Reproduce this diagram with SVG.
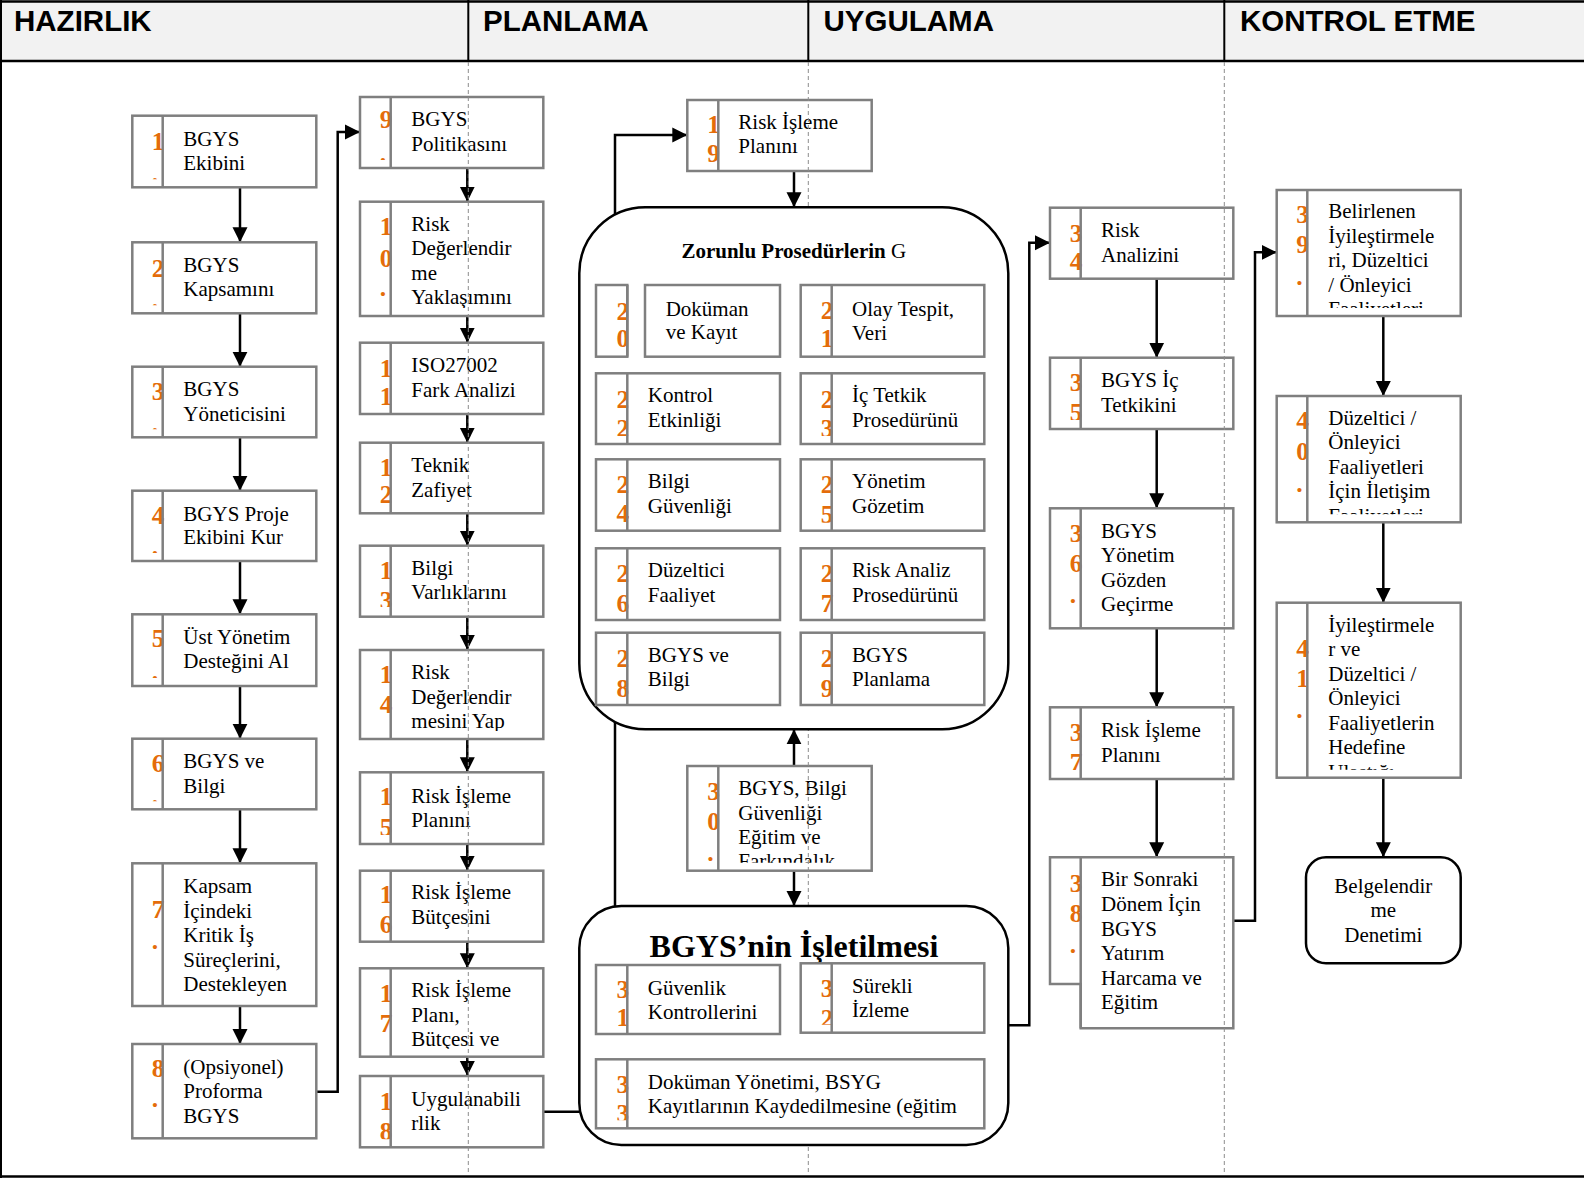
<svg xmlns="http://www.w3.org/2000/svg" width="1584" height="1178" viewBox="0 0 1584 1178">
<style>
.b{fill:#fff;stroke:#7f7f7f;stroke-width:2.5}
.d{stroke:#7f7f7f;stroke-width:2.5}
.t{font-family:"Liberation Serif","Times New Roman",serif;font-size:21px;fill:#000}
.n{font-family:"Liberation Serif","Times New Roman",serif;font-size:25.5px;font-weight:bold;fill:#e46c0a}
.c{fill:none;stroke:#000;stroke-width:2.5}
.lane{stroke:#8c8c8c;stroke-width:1;stroke-dasharray:4 3}
.h{font-family:"Liberation Sans",Arial,sans-serif;font-weight:bold;font-size:29.5px;fill:#000}
.k{fill:#fff;stroke:#000;stroke-width:2.5}
.tt{font-family:"Liberation Serif","Times New Roman",serif;font-weight:bold;fill:#000}
</style>
<defs>
<marker id="ah" markerUnits="userSpaceOnUse" markerWidth="16" markerHeight="16" viewBox="0 0 16 16" refX="15" refY="8" orient="auto"><path d="M0,0.5 L15,8 L0,15.5 Z" fill="#000"/></marker>
<clipPath id="k1"><rect x="132" y="115" width="185" height="64.3"/></clipPath>
<clipPath id="k2"><rect x="132" y="242" width="185" height="63.3"/></clipPath>
<clipPath id="k3"><rect x="132" y="366" width="185" height="63.3"/></clipPath>
<clipPath id="k4"><rect x="132" y="490" width="185" height="63"/></clipPath>
<clipPath id="k5"><rect x="132" y="614" width="185" height="64"/></clipPath>
<clipPath id="k6"><rect x="132" y="738" width="185" height="63.3"/></clipPath>
<clipPath id="k7"><rect x="132" y="863" width="185" height="135"/></clipPath>
<clipPath id="k8"><rect x="132" y="1044" width="185" height="86"/></clipPath>
<clipPath id="k9"><rect x="360" y="97" width="184" height="63"/></clipPath>
<clipPath id="k10"><rect x="360" y="201" width="184" height="107"/></clipPath>
<clipPath id="k11"><rect x="360" y="342" width="184" height="64"/></clipPath>
<clipPath id="k12"><rect x="360" y="442" width="184" height="63.3"/></clipPath>
<clipPath id="k13"><rect x="360" y="545" width="184" height="62"/></clipPath>
<clipPath id="k14"><rect x="360" y="650" width="184" height="81"/></clipPath>
<clipPath id="k15"><rect x="360" y="772" width="184" height="63"/></clipPath>
<clipPath id="k16"><rect x="360" y="870" width="184" height="63.7"/></clipPath>
<clipPath id="k17"><rect x="360" y="968" width="184" height="80.7"/></clipPath>
<clipPath id="k18"><rect x="360" y="1076" width="184" height="63.3"/></clipPath>
<clipPath id="k19"><rect x="687" y="100" width="185" height="63"/></clipPath>
<clipPath id="k30"><rect x="687" y="766" width="185" height="96.7"/></clipPath>
<clipPath id="kr1"><rect x="596" y="285" width="389" height="63.7"/></clipPath>
<clipPath id="kr2"><rect x="596" y="373" width="389" height="63"/></clipPath>
<clipPath id="kr3"><rect x="596" y="459" width="389" height="63.7"/></clipPath>
<clipPath id="kr4"><rect x="596" y="548" width="389" height="64"/></clipPath>
<clipPath id="kr5"><rect x="596" y="632" width="389" height="65"/></clipPath>
<clipPath id="k31"><rect x="596" y="965" width="184" height="61"/></clipPath>
<clipPath id="k32"><rect x="800" y="963" width="185" height="61.7"/></clipPath>
<clipPath id="k33"><rect x="596" y="1059" width="389" height="61.3"/></clipPath>
<clipPath id="k34"><rect x="1050" y="207" width="184" height="63.7"/></clipPath>
<clipPath id="k35"><rect x="1050" y="357" width="184" height="63"/></clipPath>
<clipPath id="k36"><rect x="1050" y="508" width="184" height="112.3"/></clipPath>
<clipPath id="k37"><rect x="1050" y="707" width="184" height="63"/></clipPath>
<clipPath id="k38"><rect x="1050" y="857" width="184" height="163.3"/></clipPath>
<clipPath id="k39"><rect x="1276" y="190" width="185" height="118"/></clipPath>
<clipPath id="k40"><rect x="1276" y="396" width="185" height="118.3"/></clipPath>
<clipPath id="k41"><rect x="1276" y="602" width="185" height="167.7"/></clipPath>
</defs>

<g id="header">
<rect x="0" y="0" width="1584" height="61" fill="#f2f2f2"/>
<line x1="0" y1="1.5" x2="1584" y2="1.5" stroke="#000" stroke-width="2.5"/>
<line x1="0" y1="61" x2="1584" y2="61" stroke="#000" stroke-width="2.5"/>
<line x1="1" y1="0" x2="1" y2="1178" stroke="#000" stroke-width="2"/>
<line x1="0" y1="1176.5" x2="1584" y2="1176.5" stroke="#000" stroke-width="2.5"/>
<line x1="468.3" y1="0" x2="468.3" y2="61" stroke="#000" stroke-width="2"/>
<line x1="808.3" y1="0" x2="808.3" y2="61" stroke="#000" stroke-width="2"/>
<line x1="1224.3" y1="0" x2="1224.3" y2="61" stroke="#000" stroke-width="2"/>
<text class="h" x="14" y="30.5">HAZIRLIK</text>
<text class="h" x="483" y="30.5">PLANLAMA</text>
<text class="h" x="823.5" y="30.5">UYGULAMA</text>
<text class="h" x="1240" y="30.5">KONTROL ETME</text>
</g>

<g id="connectors" class="c">
<path d="M240,187.3 V242.3" marker-end="url(#ah)"/>
<path d="M240,313.3 V366.7" marker-end="url(#ah)"/>
<path d="M240,437.3 V490.7" marker-end="url(#ah)"/>
<path d="M240,561 V614.3" marker-end="url(#ah)"/>
<path d="M240,686 V738.7" marker-end="url(#ah)"/>
<path d="M240,809.3 V863.3" marker-end="url(#ah)"/>
<path d="M240,1006 V1044" marker-end="url(#ah)"/>
<path d="M316.3,1091.7 H337.7 V132 H360" marker-end="url(#ah)"/>
<path d="M467.3,168 V201.7" marker-end="url(#ah)"/>
<path d="M467.3,316 V342.7" marker-end="url(#ah)"/>
<path d="M467.3,414 V442.7" marker-end="url(#ah)"/>
<path d="M467.3,513.3 V545.7" marker-end="url(#ah)"/>
<path d="M467.3,616.7 V650" marker-end="url(#ah)"/>
<path d="M467.3,739 V772.3" marker-end="url(#ah)"/>
<path d="M467.3,844 V870.7" marker-end="url(#ah)"/>
<path d="M467.3,941.7 V968.3" marker-end="url(#ah)"/>
<path d="M467.3,1056.7 V1076" marker-end="url(#ah)"/>
<path d="M543.3,1111.7 H579.3"/>
<path d="M615,906 V135 H687.3" marker-end="url(#ah)"/>
<path d="M794,171 V207.3" marker-end="url(#ah)"/>
<path d="M794,766 V729.3" marker-end="url(#ah)"/>
<path d="M794,870.7 V906" marker-end="url(#ah)"/>
<path d="M1008.3,1025.3 H1029.3 V242.7 H1050" marker-end="url(#ah)"/>
<path d="M1156.7,278.7 V357.7" marker-end="url(#ah)"/>
<path d="M1156.7,429 V508.3" marker-end="url(#ah)"/>
<path d="M1156.7,628.3 V707.3" marker-end="url(#ah)"/>
<path d="M1156.7,779 V857.3" marker-end="url(#ah)"/>
<path d="M1233.3,920.7 H1255 V252.3 H1276.7" marker-end="url(#ah)"/>
<path d="M1383.3,316 V396" marker-end="url(#ah)"/>
<path d="M1383.3,522.3 V602.7" marker-end="url(#ah)"/>
<path d="M1383.3,777.7 V857.3" marker-end="url(#ah)"/>
</g>

<g id="n1"><rect class="b" x="132.3" y="115.7" width="184" height="71.6"/><g clip-path="url(#k1)"><text class="n"><tspan x="151.7" y="150">1</tspan><tspan x="151.7" y="181.5">.</tspan></text><text class="t"><tspan x="183.3" y="146">BGYS</tspan><tspan x="183.3" y="170">Ekibini</tspan></text></g><line class="d" x1="162.7" y1="115.7" x2="162.7" y2="187.3"/></g>
<g id="n2"><rect class="b" x="132.3" y="242.3" width="184" height="71"/><g clip-path="url(#k2)"><text class="n"><tspan x="151.7" y="276.7">2</tspan><tspan x="151.7" y="307.5">.</tspan></text><text class="t"><tspan x="183.3" y="271.7">BGYS</tspan><tspan x="183.3" y="296">Kapsamını</tspan></text></g><line class="d" x1="162.7" y1="242.3" x2="162.7" y2="313.3"/></g>
<g id="n3"><rect class="b" x="132.3" y="366.7" width="184" height="70.6"/><g clip-path="url(#k3)"><text class="n"><tspan x="151.7" y="400">3</tspan><tspan x="151.7" y="431.5">.</tspan></text><text class="t"><tspan x="183.3" y="396">BGYS</tspan><tspan x="183.3" y="420.7">Yöneticisini</tspan></text></g><line class="d" x1="162.7" y1="366.7" x2="162.7" y2="437.3"/></g>
<g id="n4"><rect class="b" x="132.3" y="490.7" width="184" height="70.3"/><g clip-path="url(#k4)"><text class="n"><tspan x="151.7" y="524">4</tspan><tspan x="151.7" y="555.2">.</tspan></text><text class="t"><tspan x="183.3" y="521">BGYS Proje</tspan><tspan x="183.3" y="544.3">Ekibini Kur</tspan></text></g><line class="d" x1="162.7" y1="490.7" x2="162.7" y2="561"/></g>
<g id="n5"><rect class="b" x="132.3" y="614.3" width="184" height="71.7"/><g clip-path="url(#k5)"><text class="n"><tspan x="151.7" y="647.3">5</tspan><tspan x="151.7" y="680.2">.</tspan></text><text class="t"><tspan x="183.3" y="644">Üst Yönetim</tspan><tspan x="183.3" y="668.3">Desteğini Al</tspan></text></g><line class="d" x1="162.7" y1="614.3" x2="162.7" y2="686"/></g>
<g id="n6"><rect class="b" x="132.3" y="738.7" width="184" height="70.6"/><g clip-path="url(#k6)"><text class="n"><tspan x="151.7" y="771.7">6</tspan><tspan x="151.7" y="803.5">.</tspan></text><text class="t"><tspan x="183.3" y="768.3">BGYS ve</tspan><tspan x="183.3" y="792.7">Bilgi</tspan></text></g><line class="d" x1="162.7" y1="738.7" x2="162.7" y2="809.3"/></g>
<g id="n7"><rect class="b" x="132.3" y="863.3" width="184" height="142.7"/><g clip-path="url(#k7)"><text class="n"><tspan x="151.7" y="918.3">7</tspan><tspan x="151.7" y="949.3">.</tspan></text><text class="t"><tspan x="183.3" y="893.3">Kapsam</tspan><tspan x="183.3" y="917.7">İçindeki</tspan><tspan x="183.3" y="942">Kritik İş</tspan><tspan x="183.3" y="966.7">Süreçlerini,</tspan><tspan x="183.3" y="990.7">Destekleyen</tspan></text></g><line class="d" x1="162.7" y1="863.3" x2="162.7" y2="1006"/></g>
<g id="n8"><rect class="b" x="132.3" y="1044" width="184" height="94.3"/><g clip-path="url(#k8)"><text class="n"><tspan x="151.7" y="1076.7">8</tspan><tspan x="151.7" y="1107.3">.</tspan></text><text class="t"><tspan x="183.3" y="1074">(Opsiyonel)</tspan><tspan x="183.3" y="1098.3">Proforma</tspan><tspan x="183.3" y="1122.7">BGYS</tspan></text></g><line class="d" x1="162.7" y1="1044" x2="162.7" y2="1138.3"/></g>

<g id="n9"><rect class="b" x="360" y="97" width="183.3" height="71"/><g clip-path="url(#k9)"><text class="n"><tspan x="379.7" y="128.3">9</tspan><tspan x="379.7" y="162">.</tspan></text><text class="t"><tspan x="411.3" y="126">BGYS</tspan><tspan x="411.3" y="150.7">Politikasını</tspan></text></g><line class="d" x1="390.7" y1="97" x2="390.7" y2="168"/></g>
<g id="n10"><rect class="b" x="360" y="201.7" width="183.3" height="114.3"/><g clip-path="url(#k10)"><text class="n"><tspan x="379.7" y="235">1</tspan><tspan x="379.7" y="266.7">0</tspan><tspan x="379.7" y="296">.</tspan></text><text class="t"><tspan x="411.3" y="230.7">Risk</tspan><tspan x="411.3" y="255.3">Değerlendir</tspan><tspan x="411.3" y="280">me</tspan><tspan x="411.3" y="304">Yaklaşımını</tspan></text></g><line class="d" x1="390.7" y1="201.7" x2="390.7" y2="316"/></g>
<g id="n11"><rect class="b" x="360" y="342.7" width="183.3" height="71.3"/><g clip-path="url(#k11)"><text class="n"><tspan x="379.7" y="376.7">1</tspan><tspan x="379.7" y="405">1</tspan></text><text class="t"><tspan x="411.3" y="371.7">ISO27002</tspan><tspan x="411.3" y="396.7">Fark Analizi</tspan></text></g><line class="d" x1="390.7" y1="342.7" x2="390.7" y2="414"/></g>
<g id="n12"><rect class="b" x="360" y="442.7" width="183.3" height="70.6"/><g clip-path="url(#k12)"><text class="n"><tspan x="379.7" y="476">1</tspan><tspan x="379.7" y="503.3">2</tspan></text><text class="t"><tspan x="411.3" y="471.7">Teknik</tspan><tspan x="411.3" y="496.7">Zafiyet</tspan></text></g><line class="d" x1="390.7" y1="442.7" x2="390.7" y2="513.3"/></g>
<g id="n13"><rect class="b" x="360" y="545.7" width="183.3" height="71"/><g clip-path="url(#k13)"><text class="n"><tspan x="379.7" y="579.3">1</tspan><tspan x="379.7" y="609">3</tspan></text><text class="t"><tspan x="411.3" y="575">Bilgi</tspan><tspan x="411.3" y="599.3">Varlıklarını</tspan></text></g><line class="d" x1="390.7" y1="545.7" x2="390.7" y2="616.7"/></g>
<g id="n14"><rect class="b" x="360" y="650" width="183.3" height="89"/><g clip-path="url(#k14)"><text class="n"><tspan x="379.7" y="683.3">1</tspan><tspan x="379.7" y="713.3">4</tspan></text><text class="t"><tspan x="411.3" y="679.3">Risk</tspan><tspan x="411.3" y="704">Değerlendir</tspan><tspan x="411.3" y="728.3">mesini Yap</tspan></text></g><line class="d" x1="390.7" y1="650" x2="390.7" y2="739"/></g>
<g id="n15"><rect class="b" x="360" y="772.3" width="183.3" height="71.7"/><g clip-path="url(#k15)"><text class="n"><tspan x="379.7" y="805">1</tspan><tspan x="379.7" y="836">5</tspan></text><text class="t"><tspan x="411.3" y="802.7">Risk İşleme</tspan><tspan x="411.3" y="827">Planını</tspan></text></g><line class="d" x1="390.7" y1="772.3" x2="390.7" y2="844"/></g>
<g id="n16"><rect class="b" x="360" y="870.7" width="183.3" height="71"/><g clip-path="url(#k16)"><text class="n"><tspan x="379.7" y="903.3">1</tspan><tspan x="379.7" y="933">6</tspan></text><text class="t"><tspan x="411.3" y="899.3">Risk İşleme</tspan><tspan x="411.3" y="924">Bütçesini</tspan></text></g><line class="d" x1="390.7" y1="870.7" x2="390.7" y2="941.7"/></g>
<g id="n17"><rect class="b" x="360" y="968.3" width="183.3" height="88.4"/><g clip-path="url(#k17)"><text class="n"><tspan x="379.7" y="1001.7">1</tspan><tspan x="379.7" y="1031.7">7</tspan></text><text class="t"><tspan x="411.3" y="996.7">Risk İşleme</tspan><tspan x="411.3" y="1021.7">Planı,</tspan><tspan x="411.3" y="1046">Bütçesi ve</tspan></text></g><line class="d" x1="390.7" y1="968.3" x2="390.7" y2="1056.7"/></g>
<g id="n18"><rect class="b" x="360" y="1076" width="183.3" height="71.3"/><g clip-path="url(#k18)"><text class="n"><tspan x="379.7" y="1110">1</tspan><tspan x="379.7" y="1140">8</tspan></text><text class="t"><tspan x="411.3" y="1106">Uygulanabili</tspan><tspan x="411.3" y="1130">rlik</tspan></text></g><line class="d" x1="390.7" y1="1076" x2="390.7" y2="1147.3"/></g>

<g id="n19"><rect class="b" x="687.3" y="100" width="184.4" height="71"/><g clip-path="url(#k19)"><text class="n"><tspan x="707.3" y="133.3">1</tspan><tspan x="707.3" y="162">9</tspan></text><text class="t"><tspan x="738.3" y="129.3">Risk İşleme</tspan><tspan x="738.3" y="153.3">Planını</tspan></text></g><line class="d" x1="718.3" y1="100" x2="718.3" y2="171"/></g>
<g id="n30"><rect class="b" x="687.3" y="766" width="184.4" height="104.7"/><g clip-path="url(#k30)"><text class="n"><tspan x="707.3" y="800">3</tspan><tspan x="707.3" y="830">0</tspan><tspan x="707.3" y="861">.</tspan></text><text class="t"><tspan x="738.3" y="795">BGYS, Bilgi</tspan><tspan x="738.3" y="820">Güvenliği</tspan><tspan x="738.3" y="844">Eğitim ve</tspan><tspan x="738.3" y="868">Farkındalık</tspan></text></g><line class="d" x1="718.3" y1="766" x2="718.3" y2="870.7"/></g>

<g id="n34"><rect class="b" x="1050" y="207.7" width="183.3" height="71"/><g clip-path="url(#k34)"><text class="n"><tspan x="1069.7" y="241.7">3</tspan><tspan x="1069.7" y="270">4</tspan></text><text class="t"><tspan x="1101" y="237.3">Risk</tspan><tspan x="1101" y="261.7">Analizini</tspan></text></g><line class="d" x1="1080.7" y1="207.7" x2="1080.7" y2="278.7"/></g>
<g id="n35"><rect class="b" x="1050" y="357.7" width="183.3" height="71.3"/><g clip-path="url(#k35)"><text class="n"><tspan x="1069.7" y="391">3</tspan><tspan x="1069.7" y="421">5</tspan></text><text class="t"><tspan x="1101" y="386.7">BGYS İç</tspan><tspan x="1101" y="411.7">Tetkikini</tspan></text></g><line class="d" x1="1080.7" y1="357.7" x2="1080.7" y2="429"/></g>
<g id="n36"><rect class="b" x="1050" y="508.3" width="183.3" height="120"/><g clip-path="url(#k36)"><text class="n"><tspan x="1069.7" y="541.7">3</tspan><tspan x="1069.7" y="572.3">6</tspan><tspan x="1069.7" y="603.3">.</tspan></text><text class="t"><tspan x="1101" y="537.7">BGYS</tspan><tspan x="1101" y="562.3">Yönetim</tspan><tspan x="1101" y="586.7">Gözden</tspan><tspan x="1101" y="611">Geçirme</tspan></text></g><line class="d" x1="1080.7" y1="508.3" x2="1080.7" y2="628.3"/></g>
<g id="n37"><rect class="b" x="1050" y="707.3" width="183.3" height="71.7"/><g clip-path="url(#k37)"><text class="n"><tspan x="1069.7" y="741">3</tspan><tspan x="1069.7" y="771">7</tspan></text><text class="t"><tspan x="1101" y="736.7">Risk İşleme</tspan><tspan x="1101" y="761.7">Planını</tspan></text></g><line class="d" x1="1080.7" y1="707.3" x2="1080.7" y2="779"/></g>
<g id="n38"><path class="b" d="M1050,857.3 H1233.3 V1028.3 H1080.7 V984 H1050 Z"/><g clip-path="url(#k38)"><text class="n"><tspan x="1069.7" y="891.7">3</tspan><tspan x="1069.7" y="921.7">8</tspan><tspan x="1069.7" y="952.7">.</tspan></text><text class="t"><tspan x="1101" y="886">Bir Sonraki</tspan><tspan x="1101" y="911">Dönem İçin</tspan><tspan x="1101" y="936">BGYS</tspan><tspan x="1101" y="960">Yatırım</tspan><tspan x="1101" y="985">Harcama ve</tspan><tspan x="1101" y="1009.3">Eğitim</tspan></text></g><line class="d" x1="1080.7" y1="857.3" x2="1080.7" y2="1028.3"/></g>

<g id="n39"><rect class="b" x="1276.7" y="190" width="184" height="126"/><g clip-path="url(#k39)"><text class="n"><tspan x="1296.3" y="223.3">3</tspan><tspan x="1296.3" y="252.7">9</tspan><tspan x="1296.3" y="285">.</tspan></text><text class="t"><tspan x="1328.3" y="218.3">Belirlenen</tspan><tspan x="1328.3" y="242.7">İyileştirmele</tspan><tspan x="1328.3" y="267.3">ri, Düzeltici</tspan><tspan x="1328.3" y="292">/ Önleyici</tspan><tspan x="1328.3" y="316.3">Faaliyetleri</tspan></text></g><line class="d" x1="1307.3" y1="190" x2="1307.3" y2="316"/></g>
<g id="n40"><rect class="b" x="1276.7" y="396" width="184" height="126.3"/><g clip-path="url(#k40)"><text class="n"><tspan x="1296.3" y="429.3">4</tspan><tspan x="1296.3" y="460">0</tspan><tspan x="1296.3" y="491.7">.</tspan></text><text class="t"><tspan x="1328.3" y="425">Düzeltici /</tspan><tspan x="1328.3" y="449.3">Önleyici</tspan><tspan x="1328.3" y="474">Faaliyetleri</tspan><tspan x="1328.3" y="498.3">İçin İletişim</tspan><tspan x="1328.3" y="522.7">Faaliyetleri</tspan></text></g><line class="d" x1="1307.3" y1="396" x2="1307.3" y2="522.3"/></g>
<g id="n41"><rect class="b" x="1276.7" y="602.7" width="184" height="175"/><g clip-path="url(#k41)"><text class="n"><tspan x="1296.3" y="657.3">4</tspan><tspan x="1296.3" y="687.3">1</tspan><tspan x="1296.3" y="718.3">.</tspan></text><text class="t"><tspan x="1328.3" y="631.7">İyileştirmele</tspan><tspan x="1328.3" y="656">r ve</tspan><tspan x="1328.3" y="680.7">Düzeltici /</tspan><tspan x="1328.3" y="705">Önleyici</tspan><tspan x="1328.3" y="730">Faaliyetlerin</tspan><tspan x="1328.3" y="754">Hedefine</tspan><tspan x="1328.3" y="778.5">Ulaştığı</tspan></text></g><line class="d" x1="1307.3" y1="602.7" x2="1307.3" y2="777.7"/></g>
<g id="n42"><rect class="k" x="1306" y="857.3" width="154.7" height="106" rx="20"/><text class="t" text-anchor="middle"><tspan x="1383.3" y="893.3">Belgelendir</tspan><tspan x="1383.3" y="917.3">me</tspan><tspan x="1383.3" y="941.7">Denetimi</tspan></text></g>

<g id="lanes">
<line class="lane" x1="468.3" y1="62" x2="468.3" y2="1175"/>
<line class="lane" x1="808.3" y1="62" x2="808.3" y2="1175"/>
<line class="lane" x1="1224.3" y1="62" x2="1224.3" y2="1175"/>
</g>

<g id="g1">
<rect class="k" x="579.3" y="207.3" width="429" height="522" rx="66"/>
<text class="tt" x="793.8" y="258" font-size="21" text-anchor="middle">Zorunlu Prosedürlerin <tspan font-weight="normal">G</tspan></text>
<g id="n20"><rect class="b" x="596" y="285" width="31.3" height="71.7"/><rect class="b" x="645" y="285" width="135" height="71.7"/><g clip-path="url(#kr1)"><text class="n"><tspan x="616.5" y="320">2</tspan><tspan x="616.5" y="347">0</tspan></text><text class="t"><tspan x="665.7" y="316">Doküman</tspan><tspan x="665.7" y="339">ve Kayıt</tspan></text></g><line class="d" x1="627.3" y1="285" x2="627.3" y2="356.7"/></g>
<g id="n21"><rect class="b" x="800.7" y="285" width="183.6" height="71.7"/><g clip-path="url(#kr1)"><text class="n"><tspan x="820.7" y="319">2</tspan><tspan x="820.7" y="347">1</tspan></text><text class="t"><tspan x="852" y="316">Olay Tespit,</tspan><tspan x="852" y="340">Veri</tspan></text></g><line class="d" x1="831.7" y1="285" x2="831.7" y2="356.7"/></g>
<g id="n22"><rect class="b" x="596" y="373.3" width="184" height="70.7"/><g clip-path="url(#kr2)"><text class="n"><tspan x="616.5" y="408">2</tspan><tspan x="616.5" y="437">2</tspan></text><text class="t"><tspan x="647.8" y="401.7">Kontrol</tspan><tspan x="647.8" y="426.7">Etkinliği</tspan></text></g><line class="d" x1="627.3" y1="373.3" x2="627.3" y2="444"/></g>
<g id="n23"><rect class="b" x="800.7" y="373.3" width="183.6" height="70.7"/><g clip-path="url(#kr2)"><text class="n"><tspan x="820.7" y="408">2</tspan><tspan x="820.7" y="437">3</tspan></text><text class="t"><tspan x="852" y="401.7">İç Tetkik</tspan><tspan x="852" y="426.7">Prosedürünü</tspan></text></g><line class="d" x1="831.7" y1="373.3" x2="831.7" y2="444"/></g>
<g id="n24"><rect class="b" x="596" y="459.3" width="184" height="71.4"/><g clip-path="url(#kr3)"><text class="n"><tspan x="616.5" y="493.3">2</tspan><tspan x="616.5" y="521.7">4</tspan></text><text class="t"><tspan x="647.8" y="488.3">Bilgi</tspan><tspan x="647.8" y="512.7">Güvenliği</tspan></text></g><line class="d" x1="627.3" y1="459.3" x2="627.3" y2="530.7"/></g>
<g id="n25"><rect class="b" x="800.7" y="459.3" width="183.6" height="71.4"/><g clip-path="url(#kr3)"><text class="n"><tspan x="820.7" y="493.3">2</tspan><tspan x="820.7" y="523">5</tspan></text><text class="t"><tspan x="852" y="488.3">Yönetim</tspan><tspan x="852" y="512.7">Gözetim</tspan></text></g><line class="d" x1="831.7" y1="459.3" x2="831.7" y2="530.7"/></g>
<g id="n26"><rect class="b" x="596" y="548.3" width="184" height="71.7"/><g clip-path="url(#kr4)"><text class="n"><tspan x="616.5" y="581.7">2</tspan><tspan x="616.5" y="612">6</tspan></text><text class="t"><tspan x="647.8" y="576.7">Düzeltici</tspan><tspan x="647.8" y="601.7">Faaliyet</tspan></text></g><line class="d" x1="627.3" y1="548.3" x2="627.3" y2="620"/></g>
<g id="n27"><rect class="b" x="800.7" y="548.3" width="183.6" height="71.7"/><g clip-path="url(#kr4)"><text class="n"><tspan x="820.7" y="581.7">2</tspan><tspan x="820.7" y="612">7</tspan></text><text class="t"><tspan x="852" y="576.7">Risk Analiz</tspan><tspan x="852" y="601.7">Prosedürünü</tspan></text></g><line class="d" x1="831.7" y1="548.3" x2="831.7" y2="620"/></g>
<g id="n28"><rect class="b" x="596" y="632.7" width="184" height="72.3"/><g clip-path="url(#kr5)"><text class="n"><tspan x="616.5" y="666.7">2</tspan><tspan x="616.5" y="697">8</tspan></text><text class="t"><tspan x="647.8" y="661.7">BGYS ve</tspan><tspan x="647.8" y="686.3">Bilgi</tspan></text></g><line class="d" x1="627.3" y1="632.7" x2="627.3" y2="705"/></g>
<g id="n29"><rect class="b" x="800.7" y="632.7" width="183.6" height="72.3"/><g clip-path="url(#kr5)"><text class="n"><tspan x="820.7" y="666.7">2</tspan><tspan x="820.7" y="697">9</tspan></text><text class="t"><tspan x="852" y="661.7">BGYS</tspan><tspan x="852" y="686.3">Planlama</tspan></text></g><line class="d" x1="831.7" y1="632.7" x2="831.7" y2="705"/></g>
</g>

<g id="g2">
<rect class="k" x="579.3" y="906" width="429" height="239" rx="42"/>
<text class="tt" x="794" y="956.7" font-size="32" text-anchor="middle">BGYS’nin İşletilmesi</text>
<g id="n31"><rect class="b" x="596" y="965" width="184" height="69"/><g clip-path="url(#k31)"><text class="n"><tspan x="616.5" y="998.3">3</tspan><tspan x="616.5" y="1026">1</tspan></text><text class="t"><tspan x="647.8" y="995">Güvenlik</tspan><tspan x="647.8" y="1019.3">Kontrollerini</tspan></text></g><line class="d" x1="627.3" y1="965" x2="627.3" y2="1034"/></g>
<g id="n32"><rect class="b" x="800.7" y="963.3" width="183.6" height="69.4"/><g clip-path="url(#k32)"><text class="n"><tspan x="820.7" y="996.7">3</tspan><tspan x="820.7" y="1027">2</tspan></text><text class="t"><tspan x="852" y="992.7">Sürekli</tspan><tspan x="852" y="1017.3">İzleme</tspan></text></g><line class="d" x1="831.7" y1="963.3" x2="831.7" y2="1032.7"/></g>
<g id="n33"><rect class="b" x="596" y="1059.3" width="388.3" height="69"/><g clip-path="url(#k33)"><text class="n"><tspan x="616.5" y="1093.3">3</tspan><tspan x="616.5" y="1122">3</tspan></text><text class="t"><tspan x="647.8" y="1089.3">Doküman Yönetimi, BSYG</tspan><tspan x="647.8" y="1113.3">Kayıtlarının Kaydedilmesine (eğitim</tspan></text></g><line class="d" x1="627.3" y1="1059.3" x2="627.3" y2="1128.3"/></g>
</g>
</svg>
